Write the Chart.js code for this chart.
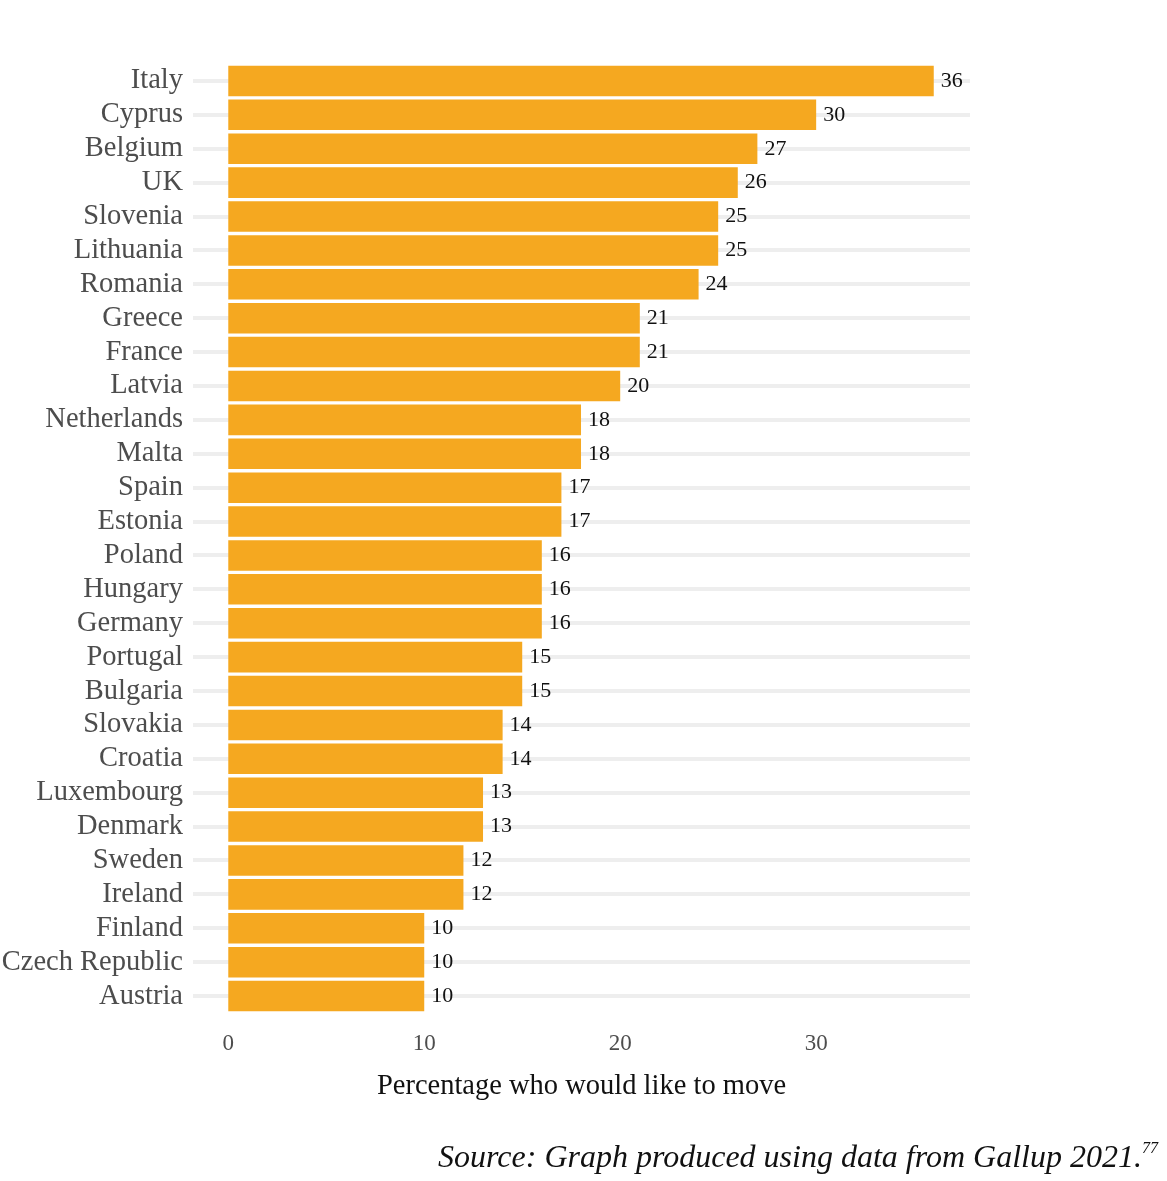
<!DOCTYPE html>
<html>
<head>
<meta charset="utf-8">
<script src="https://cdn.jsdelivr.net/npm/chart.js@4/dist/chart.umd.min.js"></script>
<style>
  body { margin: 0; background: #fff; }
  #wrap { position: relative; width: 1167px; height: 1181px; }
  #source {
    position: absolute; right: 9px; top: 1138px;
    font-family: "Liberation Serif", serif; font-style: italic;
    font-size: 32px; color: #111; white-space: nowrap;
  }
  #source sup { font-size: 16px; vertical-align: 14px; }
</style>
</head>
<body>
<div id="wrap">
  <canvas id="chart" width="1167" height="1181"></canvas>
  <div id="source">Source: Graph produced using data from Gallup 2021.<sup>77</sup></div>
</div>
<script>
// data
const countries = ['Italy', 'Cyprus', 'Belgium', 'UK', 'Slovenia', 'Lithuania', 'Romania',
    'Greece', 'France', 'Latvia', 'Netherlands', 'Malta', 'Spain', 'Estonia', 'Poland',
    'Hungary', 'Germany', 'Portugal', 'Bulgaria', 'Slovakia', 'Croatia', 'Luxembourg',
    'Denmark', 'Sweden', 'Ireland', 'Finland', 'Czech Republic', 'Austria'];
const percentages = [36, 30, 27, 26, 25, 25, 24, 21, 21, 20, 18, 18, 17, 17, 16, 16, 16,
    15, 15, 14, 14, 13, 13, 12, 12, 10, 10, 10];
const xTicks = [0, 10, 20, 30];

const serif = '"Liberation Serif", "Times New Roman", serif';

// draw the number at the end of each bar
const valueLabels = {
    id: 'valueLabels',
    afterDatasetsDraw(chart) {
        const ctx = chart.ctx;
        const meta = chart.getDatasetMeta(0);
        ctx.save();
        ctx.font = '22px ' + serif;
        ctx.fillStyle = '#111';
        ctx.textAlign = 'left';
        ctx.textBaseline = 'middle';
        meta.data.forEach(function (bar, i) {
            ctx.fillText(percentages[i], bar.x + 7, bar.y);
        });
        ctx.restore();
    }
};

new Chart(document.getElementById('chart').getContext('2d'), {
    type: 'bar',
    data: {
        labels: countries,
        datasets: [{
            data: percentages,
            backgroundColor: '#F5A820',
            borderWidth: 0,
            barPercentage: 0.9,
            categoryPercentage: 1.0
        }]
    },
    options: {
        indexAxis: 'y',
        responsive: false,
        animation: false,
        layout: { padding: { left: 0, top: 64, right: 197, bottom: 77 } },
        plugins: {
            legend: { display: false },
            tooltip: { enabled: false }
        },
        scales: {
            x: {
                min: -1.8,
                max: 37.85,
                afterBuildTicks: function (scale) {
                    scale.ticks = xTicks.map(v => ({ value: v }));
                },
                afterFit: function (scale) { scale.height = 91; },
                grid: { display: false, drawTicks: false },
                border: { display: false },
                ticks: {
                    padding: 17,
                    color: '#4D4D4D',
                    font: { family: serif, size: 23 }
                },
                title: {
                    display: true,
                    text: 'Percentage who would like to move',
                    color: '#111',
                    padding: { top: 0, bottom: 0 },
                    font: { family: serif, size: 28.5 }
                }
            },
            y: {
                afterFit: function (scale) { scale.width = 193; },
                grid: { color: '#EEEEEE', lineWidth: 4, drawTicks: false, offset: false },
                border: { display: false },
                ticks: {
                    autoSkip: false,
                    padding: 10,
                    color: '#4D4D4D',
                    font: { family: serif, size: 28.5 }
                }
            }
        }
    },
    plugins: [valueLabels]
});
</script>
</body>
</html>
